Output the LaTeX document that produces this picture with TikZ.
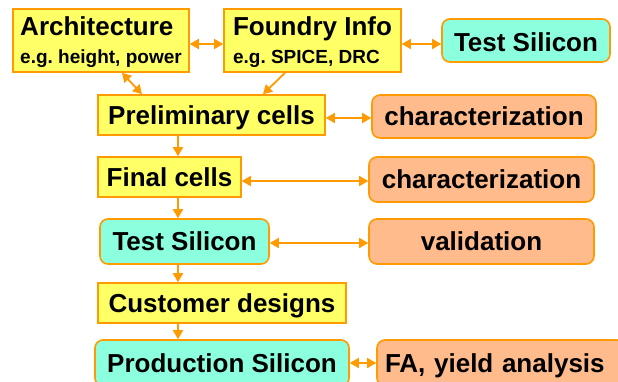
\documentclass[tikz,border=0pt]{standalone}
\usepackage{fontspec}
\setmainfont{Liberation Sans}
\usetikzlibrary{arrows.meta}
\definecolor{boxyellow}{HTML}{FFFF66}
\definecolor{boxcyan}{HTML}{8CFFDF}
\definecolor{boxsalmon}{HTML}{FFBB8C}
\definecolor{edgeorange}{HTML}{FF9A00}
\tikzset{
  base/.style={draw=edgeorange, line width=1.6pt, inner sep=0pt, font=\bfseries\fontsize{26}{28}\selectfont\frenchspacing, text=black, text height=18.7pt, text depth=0pt},
  ybox/.style={base, fill=boxyellow},
  cbox/.style={base, fill=boxcyan, rounded corners=8pt},
  sbox/.style={base, fill=boxsalmon, rounded corners=8pt},
  twoline/.style={ybox, text height=, text depth=, align=left},
  conn/.style={draw=edgeorange, line width=1.8pt, arrows={-Triangle[length=9pt,width=10pt]}},
  biconn/.style={draw=edgeorange, line width=1.8pt, arrows={Triangle[length=9pt,width=10pt]-Triangle[length=9pt,width=10pt]}}
}
\begin{document}
\begin{tikzpicture}[x=1pt,y=-1pt]
\clip (0,0) rectangle (618,381);
\fill[white] (0,0) rectangle (618,381);
\node[twoline, minimum width=176pt, minimum height=63pt] (arch) at (101,40.5)
  {\rule{0pt}{23pt}Architecture\\{\fontsize{19}{25}\selectfont e.g. height, power}};
\node[twoline, minimum width=177pt, minimum height=63pt] (found) at (312.5,40.5)
  {\rule{0pt}{23pt}Foundry Info\\{\fontsize{19}{25}\selectfont e.g. SPICE, DRC}};
\node[cbox, minimum width=168pt, minimum height=43pt] (ts1) at (526,40.5) {\raisebox{-1.5pt}{Test Silicon}};
\node[ybox, minimum width=227pt, minimum height=40pt] (prelim) at (211.5,115) {Preliminary cells};
\node[sbox, minimum width=224pt, minimum height=43pt] (char1) at (484,116.5) {characterization};
\node[ybox, minimum width=143pt, minimum height=40pt] (final) at (169.5,177) {Final cells};
\node[sbox, minimum width=225pt, minimum height=45pt] (char2) at (481.5,179.5) {characterization};
\node[cbox, minimum width=169pt, minimum height=45pt] (ts2) at (184.5,241.5) {Test Silicon};
\node[sbox, minimum width=225pt, minimum height=45pt] (valid) at (481.5,241.5) {validation};
\node[ybox, minimum width=248pt, minimum height=40pt] (cust) at (222,303) {Customer designs};
\node[cbox, minimum width=254pt, minimum height=46pt] (prod) at (222,363) {Production Silicon};
\node[sbox, minimum width=248pt, minimum height=46pt, text width=240pt, align=left] (fa) at (501,363) {\hspace{4pt}FA, yield analysis};
\coordinate (spine) at (178,0);
% connectors
\draw[biconn] ([yshift=-3.5pt]arch.east) -- ([yshift=-3.5pt]found.west);
\draw[biconn] ([yshift=-3.5pt]found.east) -- ([yshift=-3.5pt]ts1.west);
\draw[biconn] ([xshift=21pt]arch.south) -- ([xshift=-69.5pt]prelim.north);
\draw[conn] ([xshift=-27.5pt]found.south) -- ([xshift=51.5pt]prelim.north);
\draw[biconn] ([yshift=-3pt]prelim.east) -- ([yshift=-3pt]prelim.east -| char1.west);
\draw[biconn] ([yshift=-4pt]final.east) -- ([yshift=-4pt]final.east -| char2.west);
\draw[biconn] ([yshift=-1.5pt]ts2.east) -- ([yshift=-1.5pt]ts2.east -| valid.west);
\draw[biconn] (prod.east) -- (prod.east -| fa.west);
\draw[conn] (prelim.south -| spine) -- (final.north -| spine);
\draw[conn] (final.south -| spine) -- (ts2.north -| spine);
\draw[conn] (ts2.south -| spine) -- (cust.north -| spine);
\draw[conn] (cust.south -| spine) -- (prod.north -| spine);
\end{tikzpicture}
\end{document}
